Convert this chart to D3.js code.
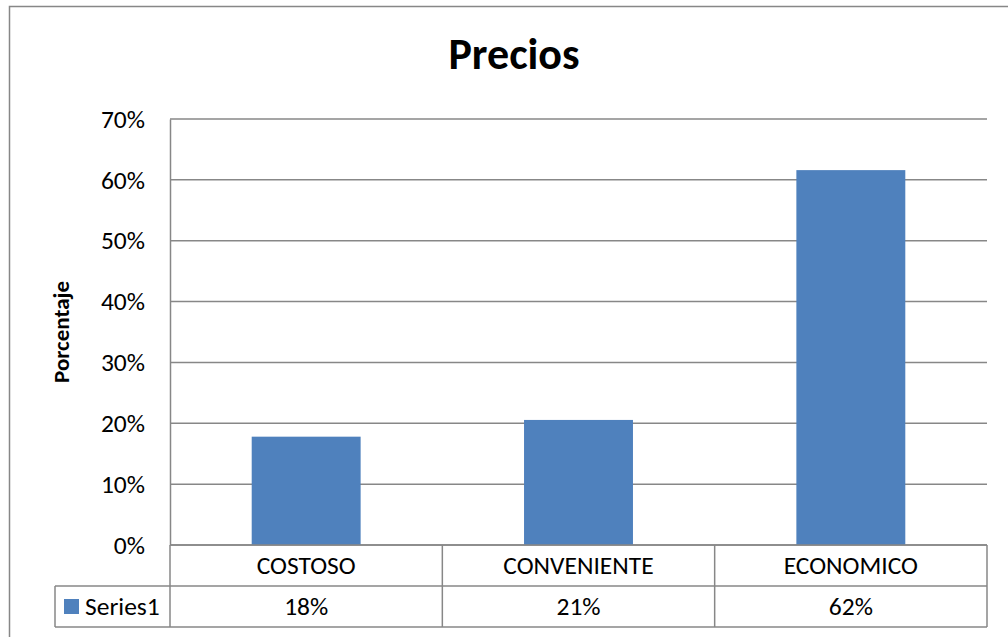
<!DOCTYPE html>
<html>
<head>
<meta charset="utf-8">
<script src="https://cdn.jsdelivr.net/npm/d3@7"></script>
<style>
  html, body { margin: 0; padding: 0; background: #fff; }
  svg { display: block; }
  text { font-family: Carlito, Calibri, Lato, "Open Sans", sans-serif; fill: #000; }
</style>
</head>
<body>
<svg id="chart" width="1008" height="637"></svg>
<script>
// Chart data
const title = "Precios";
const yTitle = "Porcentaje";
const seriesName = "Series1";
const categories = ["COSTOSO", "CONVENIENTE", "ECONOMICO"];
const values = [0.178, 0.2055, 0.616];
const yTicks = [0, 0.1, 0.2, 0.3, 0.4, 0.5, 0.6, 0.7];

const barColor = "#4F81BD";
const lineColor = "#878787";
const pct = d3.format(".0%");
const fontStack = "Carlito, Calibri, Lato, 'Open Sans', sans-serif";
const labelSize = 25.5;

const svg = d3.select("#chart");

// Plot area geometry
const plot = { left: 170, right: 987, top: 119, bottom: 545 };
const rowH = 41;          // height of each data-table row
const legendLeft = 55;    // left edge of the legend cell in the table

const x = d3.scaleBand().domain(categories).range([plot.left, plot.right]).padding(0);
const y = d3.scaleLinear().domain([0, 0.7]).range([plot.bottom, plot.top]);
const barW = x.bandwidth() * 0.4;

// Outer chart frame
svg.append("rect")
  .attr("x", 9.5).attr("y", 6.5)
  .attr("width", 1040).attr("height", 680)
  .attr("fill", "none").attr("stroke", lineColor).attr("stroke-width", 1.5);

// Title
svg.append("text")
  .attr("x", 514).attr("y", 69)
  .attr("text-anchor", "middle")
  .attr("font-size", 44).attr("font-weight", "bold")
  .text(title);

// Gridlines
svg.append("g")
  .selectAll("line")
  .data(yTicks)
  .join("line")
  .attr("x1", plot.left).attr("x2", plot.right)
  .attr("y1", d => y(d)).attr("y2", d => y(d))
  .attr("stroke", lineColor).attr("stroke-width", 1.5);

// Y axis (line + labels)
const yAxis = d3.axisLeft(y).tickValues(yTicks).tickFormat(pct).tickSize(0).tickPadding(25);
const gy = svg.append("g").attr("transform", `translate(${plot.left},0)`).call(yAxis);
gy.select(".domain").attr("stroke", lineColor).attr("stroke-width", 1.5);
gy.selectAll("text")
  .attr("font-size", labelSize)
  .style("font-family", fontStack)
  .attr("fill", "#000");

// Y axis title
svg.append("text")
  .attr("transform", `translate(69,${(plot.top + plot.bottom) / 2}) rotate(-90)`)
  .attr("text-anchor", "middle")
  .attr("font-size", 23).attr("font-weight", "bold")
  .text(yTitle);

// Bars
svg.append("g")
  .selectAll("rect")
  .data(values)
  .join("rect")
  .attr("x", (d, i) => x(categories[i]) + (x.bandwidth() - barW) / 2)
  .attr("width", barW)
  .attr("y", d => y(d))
  .attr("height", d => y(0) - y(d))
  .attr("fill", barColor);

// Data table under the plot
const table = svg.append("g")
  .attr("fill", "none").attr("stroke", lineColor).attr("stroke-width", 1.5);
const t0 = plot.bottom, t1 = plot.bottom + rowH, t2 = plot.bottom + 2 * rowH;
// horizontal rules
table.append("line").attr("x1", plot.left).attr("x2", plot.right).attr("y1", t0).attr("y2", t0);
table.append("line").attr("x1", legendLeft).attr("x2", plot.right).attr("y1", t1).attr("y2", t1);
table.append("line").attr("x1", legendLeft).attr("x2", plot.right).attr("y1", t2).attr("y2", t2);
// vertical rules
table.append("line").attr("x1", legendLeft).attr("x2", legendLeft).attr("y1", t1).attr("y2", t2);
const vx = categories.map(c => x(c)).concat([plot.right]);
table.selectAll("line.v")
  .data(vx)
  .join("line")
  .attr("class", "v")
  .attr("x1", d => d).attr("x2", d => d)
  .attr("y1", t0).attr("y2", t2);

// Category labels
svg.append("g")
  .selectAll("text")
  .data(categories)
  .join("text")
  .attr("x", d => x(d) + x.bandwidth() / 2)
  .attr("y", t0 + rowH / 2)
  .attr("dy", "0.35em")
  .attr("text-anchor", "middle")
  .attr("font-size", labelSize)
  .text(d => d);

// Value labels
svg.append("g")
  .selectAll("text")
  .data(values)
  .join("text")
  .attr("x", (d, i) => x(categories[i]) + x.bandwidth() / 2)
  .attr("y", t1 + rowH / 2)
  .attr("dy", "0.35em")
  .attr("text-anchor", "middle")
  .attr("font-size", labelSize)
  .text(d => pct(d));

// Legend key in the table
svg.append("rect")
  .attr("x", 64).attr("y", t1 + 13)
  .attr("width", 15).attr("height", 15)
  .attr("fill", barColor);
svg.append("text")
  .attr("x", 85).attr("y", t1 + rowH / 2)
  .attr("dy", "0.35em")
  .attr("font-size", labelSize)
  .text(seriesName);
</script>
</body>
</html>
